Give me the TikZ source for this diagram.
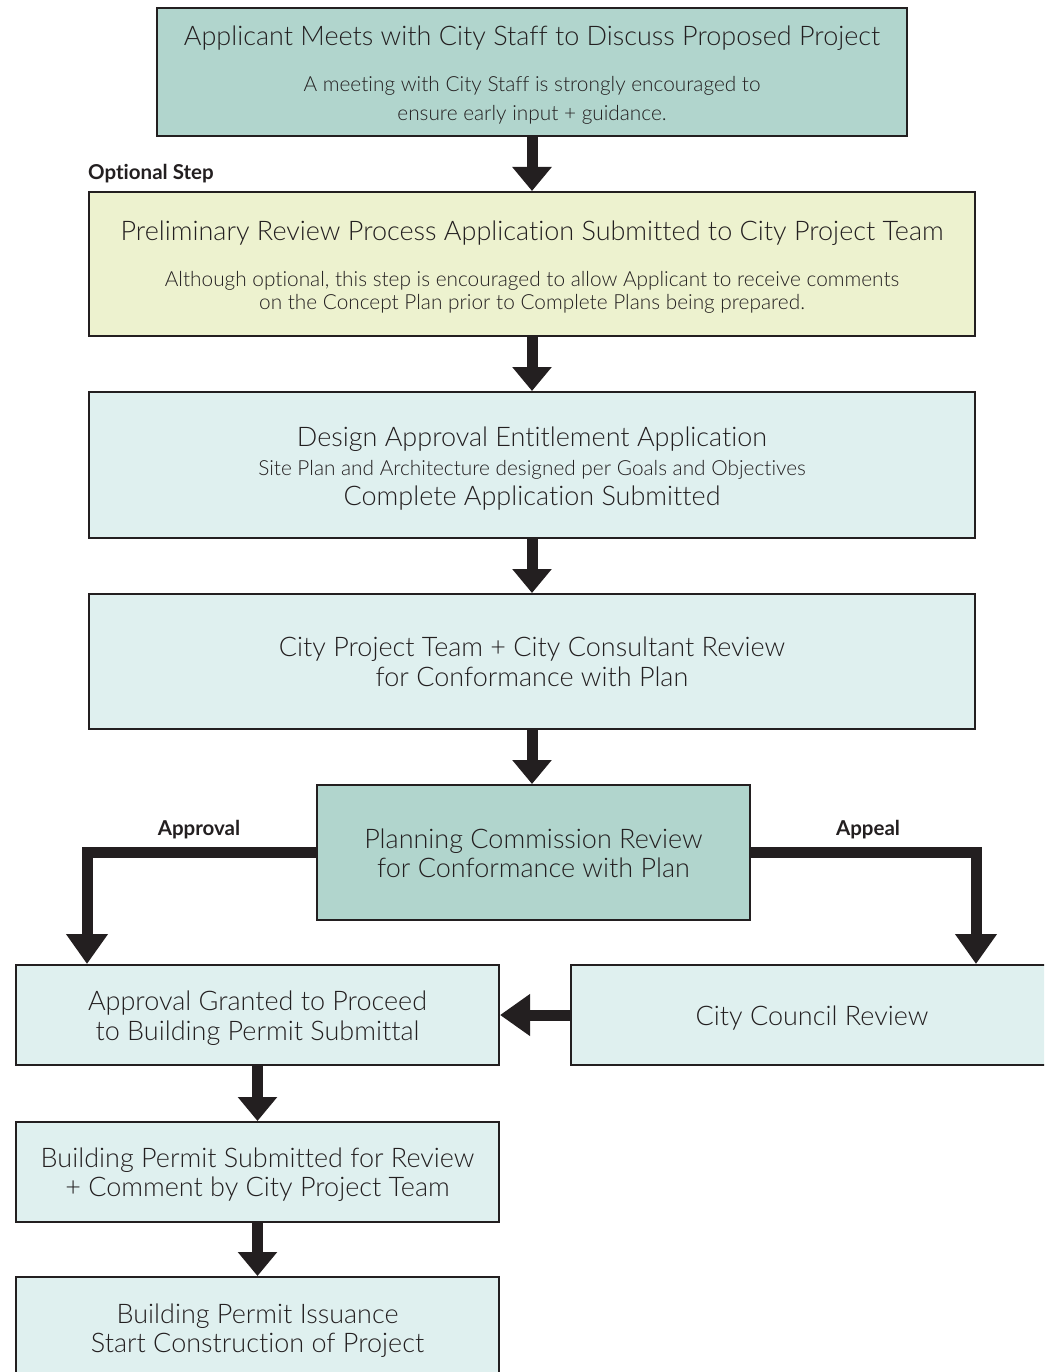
\documentclass[tikz,border=0pt]{standalone}
\usepackage{fontspec}
\setmainfont{Lato}[UprightFont=* Light, BoldFont=* Bold, Ligatures=NoCommon]
\usetikzlibrary{arrows.meta,calc}
\definecolor{ink}{HTML}{231F20}
\definecolor{teal}{HTML}{B1D5CD}
\definecolor{pale}{HTML}{EDF2CF}
\definecolor{mist}{HTML}{DFF0EF}
\tikzset{
  box/.style={draw=ink, line width=2pt, inner sep=0pt, rectangle},
  head/.style={font=\fontsize{27}{30}\selectfont, text=ink, inner sep=0pt, text height=24pt, text depth=4.6pt},
  sub/.style={font=\fontsize{20.8}{23}\selectfont, text=ink, inner sep=0pt, text height=19pt, text depth=4pt},
  tag/.style={font=\fontsize{20.5}{23}\selectfont\bfseries, text=ink, inner sep=0pt, text height=18pt, text depth=3.6pt},
  arr/.style={draw=ink, line width=11pt, -{Triangle[width=38pt,length=24pt]}},
  arrlong/.style={draw=ink, line width=11pt, line join=miter, -{Triangle[width=40pt,length=30pt]}}
}
\begin{document}
\begin{tikzpicture}[x=1pt,y=-1pt]
\useasboundingbox (0,0) rectangle (1044,1372);
\clip (0,0) rectangle (1044,1372);

% process boxes
\node[box, fill=teal, minimum width=750pt, minimum height=128pt] (b1) at (532,72) {};
\node[box, fill=pale, minimum width=886pt, minimum height=144pt] (b2) at (532,264) {};
\node[box, fill=mist, minimum width=886pt, minimum height=146pt] (b3) at (532,465) {};
\node[box, fill=mist, minimum width=886pt, minimum height=135pt] (b4) at (532,661.5) {};
\node[box, fill=teal, minimum width=433pt, minimum height=135pt] (b5) at (533,852.5) {};
\node[box, fill=mist, minimum width=483pt, minimum height=100pt] (b6) at (257.5,1015) {};
\node[box, fill=mist, minimum width=489pt, minimum height=100pt] (b7) at (815.5,1015) {};
\node[box, fill=mist, minimum width=483pt, minimum height=100pt] (b8) at (257.5,1172) {};
\node[box, fill=mist, minimum width=483pt, minimum height=104pt] (b9) at (257.5,1329) {};

% box texts
\node[head] (t1a) at (532,36) {Applicant Meets with City Staff to Discuss Proposed Project};
\node[sub]  (t1b) at (532,84) {A meeting with City Staff is strongly encouraged to};
\node[sub]  (t1c) at (532,113) {ensure early input + guidance.};

\node[head] (t2a) at (532,231) {Preliminary Review Process Application Submitted to City Project Team};
\node[sub]  (t2b) at (532,279) {Although optional, this step is encouraged to allow Applicant to receive comments};
\node[sub]  (t2c) at (532,302) {on the Concept Plan prior to Complete Plans being prepared.};

\node[head] (t3a) at (532,437) {Design Approval Entitlement Application};
\node[sub]  (t3b) at (532,468) {Site Plan and Architecture designed per Goals and Objectives};
\node[head] (t3c) at (532,496) {Complete Application Submitted};

\node[head] (t4a) at (532,647) {City Project Team + City Consultant Review};
\node[head] (t4b) at (532,677) {for Conformance with Plan};

\node[head] (t5a) at (533.5,839) {Planning Commission Review};
\node[head] (t5b) at (533.5,868) {for Conformance with Plan};

\node[head] (t6a) at (257.5,1001) {Approval Granted to Proceed};
\node[head] (t6b) at (257.5,1031) {to Building Permit Submittal};

\node[head] (t7a) at (812,1016) {City Council Review};

\node[head] (t8a) at (257.5,1158) {Building Permit Submitted for Review};
\node[head] (t8b) at (257.5,1187) {+ Comment by City Project Team};

\node[head] (t9a) at (257.5,1314) {Building Permit Issuance};
\node[head] (t9b) at (257.5,1343) {Start Construction of Project};

% side labels
\node[tag, anchor=west] (lopt) at (88,172) {Optional Step};
\node[tag] (lapr) at (199,828) {Approval};
\node[tag] (lapp) at (868,828) {Appeal};

% connectors
\draw[arr] (b1.south) -- (b2.north);
\draw[arr] (b2.south) -- (b3.north);
\draw[arr] (b3.south) -- (b4.north);
\draw[arr] (b4.south) -- (b4.south |- b5.north);
\draw[arrlong] (b5.west) -| ($(b6.north west)+(72,0)$);
\draw[arrlong] (b5.east) -| ($(b7.north west)+(406,0)$);
\draw[arrlong] (b7.west) -- (b6.east);
\draw[arr] (b6.south) -- (b8.north);
\draw[arr] (b8.south) -- (b9.north);
\end{tikzpicture}
\end{document}
